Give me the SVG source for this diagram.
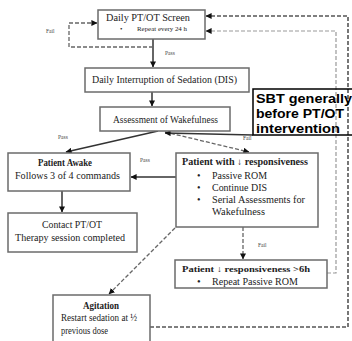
<svg xmlns="http://www.w3.org/2000/svg" width="352" height="341" viewBox="0 0 352 341">
  <style>
    .box { fill: #fff; stroke: #6b6b6b; stroke-width: 1.5; }
    .t { font-family: "Liberation Serif", "Times New Roman", serif; fill: #222; }
    .b { font-weight: bold; }
    .lbl { font-family: "Liberation Serif", "Times New Roman", serif; font-size: 5.5px; fill: #444; }
    .solid { fill: none; stroke: #333; stroke-width: 1.5; }
    .dash { fill: none; stroke: #666; stroke-width: 1.3; stroke-dasharray: 4 2; }
    .dashlt { fill: none; stroke: #999; stroke-width: 1.2; stroke-dasharray: 4 2; }
    .dashdk { fill: none; stroke: #555; stroke-width: 1.6; stroke-dasharray: 4 2; }
    .sbt { font-family: "Liberation Sans", Arial, sans-serif; font-weight: bold; font-size: 13px; fill: #000; }
  </style>
  <defs>
    <marker id="ah" viewBox="0 0 8 8" refX="7.5" refY="4" markerWidth="6" markerHeight="6" markerUnits="userSpaceOnUse" orient="auto">
      <path d="M0,0 L8,4 L0,8 z" fill="#111"/>
    </marker>
  </defs>
  <rect width="352" height="341" fill="#fff"/>

  <g id="connectors">
    <line class="solid" x1="153" y1="39" x2="153" y2="67" marker-end="url(#ah)"/>
    <text class="lbl" x="165" y="55">Pass</text>
    <path class="dash" d="M153,47 H69 V23 H97" marker-end="url(#ah)"/>
    <text class="lbl" x="46" y="33">Fail</text>
    <line class="solid" x1="152" y1="92" x2="152" y2="106" marker-end="url(#ah)"/>
    <line class="solid" x1="158" y1="131" x2="66" y2="152" marker-end="url(#ah)"/>
    <text class="lbl" x="58" y="139">Pass</text>
    <line class="dash" x1="165" y1="132" x2="249" y2="152" marker-end="url(#ah)"/>
    <line class="solid" x1="253" y1="135" x2="165" y2="133" stroke="#000" marker-end="url(#ah)"/>
    <text class="lbl" x="243" y="140">Fail</text>
    <line class="solid" x1="176" y1="177" x2="131" y2="177" marker-end="url(#ah)"/>
    <text class="lbl" x="140" y="162">Pass</text>
    <line class="solid" x1="62" y1="191" x2="62" y2="212" marker-end="url(#ah)"/>
    <line class="dash" x1="175" y1="228" x2="109" y2="294" marker-end="url(#ah)"/>
    <line class="dash" x1="243" y1="227" x2="243" y2="259" marker-end="url(#ah)"/>
    <text class="lbl" x="258" y="247">Fail</text>
    <path class="dashlt" d="M327,273 H336 V31 H206" marker-end="url(#ah)"/>
    <path class="dashdk" d="M150,327 H348 V16 H206" marker-end="url(#ah)"/>
  </g>

  <g id="screen">
    <rect class="box" x="98" y="10" width="107" height="29"/>
    <text class="t" x="106" y="21" font-size="10" textLength="84" lengthAdjust="spacingAndGlyphs">Daily PT/OT Screen</text>
    <text class="t" x="120" y="31" font-size="7">•</text>
    <text class="t" x="137" y="31" font-size="6.5" textLength="50" lengthAdjust="spacingAndGlyphs">Repeat every 24 h</text>
  </g>

  <g id="dis">
    <rect class="box" x="85" y="68" width="164" height="24"/>
    <text class="t" x="92" y="83" font-size="9.5" textLength="145" lengthAdjust="spacingAndGlyphs">Daily Interruption of Sedation (DIS)</text>
  </g>

  <g id="wakefulness">
    <rect class="box" x="100" y="107" width="130" height="24"/>
    <text class="t" x="113" y="123" font-size="9.5" textLength="105" lengthAdjust="spacingAndGlyphs">Assessment of Wakefulness</text>
  </g>

  <g id="sbt-note">
    <rect x="253" y="89" width="110" height="46" fill="none" stroke="#000" stroke-width="1.5"/>
    <text class="sbt" x="256" y="103" textLength="96" lengthAdjust="spacingAndGlyphs">SBT generally</text>
    <text class="sbt" x="256" y="118" textLength="88" lengthAdjust="spacingAndGlyphs">before PT/OT</text>
    <text class="sbt" x="256" y="133" textLength="84" lengthAdjust="spacingAndGlyphs">intervention</text>
  </g>

  <g id="awake">
    <rect class="box" x="8" y="153" width="122" height="38"/>
    <text class="t b" x="38" y="166" font-size="9.5" textLength="54" lengthAdjust="spacingAndGlyphs">Patient Awake</text>
    <text class="t" x="15" y="179" font-size="10.5" textLength="105" lengthAdjust="spacingAndGlyphs">Follows 3 of 4 commands</text>
  </g>

  <g id="contact">
    <rect class="box" x="8" y="213" width="129" height="39"/>
    <text class="t" x="42" y="228" font-size="11" textLength="60" lengthAdjust="spacingAndGlyphs">Contact PT/OT</text>
    <text class="t" x="15" y="241" font-size="10" textLength="110" lengthAdjust="spacingAndGlyphs">Therapy session completed</text>
  </g>

  <g id="reduced">
    <rect class="box" x="176" y="153" width="142" height="74"/>
    <text class="t b" x="182" y="165" font-size="9.5" textLength="126" lengthAdjust="spacingAndGlyphs">Patient with ↓ responsiveness</text>
    <text class="t" x="197" y="179" font-size="10">•</text>
    <text class="t" x="212" y="179" font-size="10" textLength="55" lengthAdjust="spacingAndGlyphs">Passive ROM</text>
    <text class="t" x="197" y="191" font-size="10">•</text>
    <text class="t" x="212" y="191" font-size="10" textLength="55" lengthAdjust="spacingAndGlyphs">Continue DIS</text>
    <text class="t" x="197" y="203" font-size="10">•</text>
    <text class="t" x="212" y="203" font-size="10" textLength="93" lengthAdjust="spacingAndGlyphs">Serial Assessments for</text>
    <text class="t" x="212" y="215" font-size="10" textLength="53" lengthAdjust="spacingAndGlyphs">Wakefulness</text>
  </g>

  <g id="reduced-6h">
    <rect class="box" x="175" y="260" width="152" height="28"/>
    <text class="t b" x="182" y="272" font-size="8.5" textLength="128" lengthAdjust="spacingAndGlyphs">Patient ↓ responsiveness &gt;6h</text>
    <text class="t" x="197" y="285" font-size="10.5">•</text>
    <text class="t" x="212" y="285" font-size="10.5" textLength="86" lengthAdjust="spacingAndGlyphs">Repeat Passive ROM</text>
  </g>

  <g id="agitation">
    <rect class="box" x="53" y="295" width="97" height="60"/>
    <text class="t b" x="83" y="309" font-size="10" textLength="36" lengthAdjust="spacingAndGlyphs">Agitation</text>
    <text class="t" x="61" y="321" font-size="10" textLength="76" lengthAdjust="spacingAndGlyphs">Restart sedation at ½</text>
    <text class="t" x="61" y="334" font-size="10" textLength="47" lengthAdjust="spacingAndGlyphs">previous dose</text>
  </g>
</svg>
